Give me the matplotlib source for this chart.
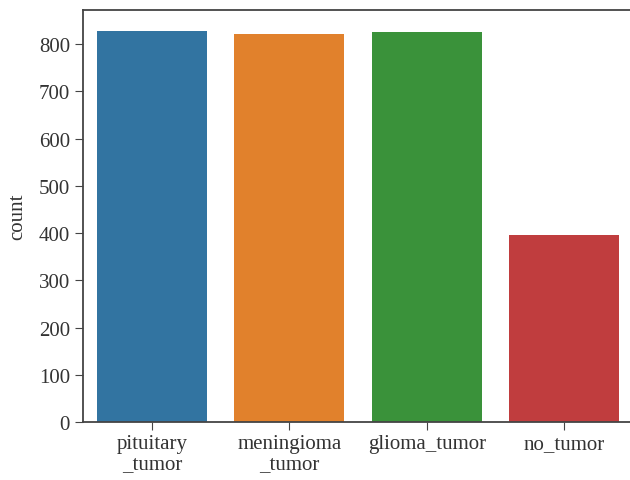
import matplotlib
matplotlib.use("Agg")
import matplotlib.pyplot as plt

categories = ["pituitary\n_tumor", "meningioma\n_tumor", "glioma_tumor", "no_tumor"]
counts = [827, 822, 826, 395]
colors = ["#3274a1", "#e1812c", "#3a923a", "#c03d3e"]
yticks = [0, 100, 200, 300, 400, 500, 600, 700, 800]

plt.rcParams["font.family"] = ["Liberation Serif", "DejaVu Serif"]

fig = plt.figure(figsize=(6.3, 4.81), dpi=100)
ax = fig.add_axes([0.132, 0.1206, 0.873, 0.8564])

x = range(len(categories))
ax.bar(x, counts, width=0.8, color=colors)
ax.set_xlim(-0.5, 3.5)
ax.set_ylim(0, 872)
ax.set_xticks(list(x))
ax.set_xticklabels(categories, fontsize=15, color="#333333", linespacing=1.05)
ax.set_yticks(yticks)
ax.tick_params(axis="y", labelsize=15, labelcolor="#333333", length=6, color="#444444")
ax.tick_params(axis="x", length=6, color="#444444", pad=3)
ax.set_ylabel("count", fontsize=15, color="#333333", labelpad=8)
for s in ax.spines.values():
    s.set_color("#444444")
    s.set_linewidth(1.3)

fig.savefig("out.png", dpi=100)
